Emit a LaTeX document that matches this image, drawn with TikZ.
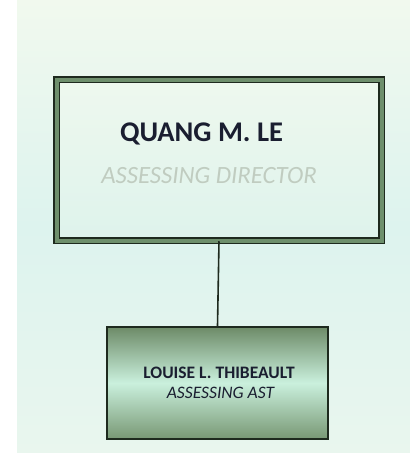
\documentclass[tikz,border=0pt]{standalone}
\usepackage{fontspec}
\setmainfont{Carlito}
\definecolor{bgtop}{HTML}{F1F9EE}
\definecolor{bgmid}{HTML}{DDF3EE}
\definecolor{bgbot}{HTML}{E9F6EE}
\definecolor{frame}{HTML}{6E8F6C}
\definecolor{edge}{HTML}{1E2A1E}
\definecolor{boxtop}{HTML}{EEF8EE}
\definecolor{boxbot}{HTML}{DEF3EC}
\definecolor{asttop}{HTML}{6D8B68}
\definecolor{astmid}{HTML}{CAF0DD}
\definecolor{astbot}{HTML}{789874}
\definecolor{namecol}{HTML}{1A1E30}
\definecolor{titlecol}{HTML}{C0CCC0}
\begin{document}
\begin{tikzpicture}[x=1pt,y=-1pt,
  bossbox/.style={draw=edge,double=frame,line width=1.5pt,double distance=4pt,
    top color=boxtop,bottom color=boxbot,minimum width=325pt,minimum height=161pt,inner sep=0pt},
  astbox/.style={draw=edge,line width=1.6pt,top color=asttop,bottom color=astbot,middle color=astmid,
    minimum width=221pt,minimum height=112pt,inner sep=0pt},
  nametext/.style={text=namecol,inner sep=0pt},
  titletext/.style={inner sep=0pt}]

% page and backdrop
\useasboundingbox (0,0) rectangle (410,453);
\fill[white] (0,0) rectangle (410,453);
\shade[top color=bgtop,bottom color=bgbot,middle color=bgmid] (17,0) rectangle (410,453);

% boxes
\node[bossbox] (boss) at (219,160) {};
\node[astbox] (ast) at (217.5,383) {};
\draw[edge,line width=1.6pt] (boss.south) -- (ast.north);

% texts
\node[nametext,font=\fontsize{28.5}{32}\selectfont\bfseries] (bossname) at (201.5,134) {QUANG M. LE};
\node[titletext,text=titlecol,font=\fontsize{24.8}{29}\selectfont\itshape] (bosstitle) at (209,176) {ASSESSING DIRECTOR};
\node[nametext,font=\fontsize{17.5}{20}\selectfont\bfseries] (astname) at (219,373) {LOUISE L. THIBEAULT};
\node[titletext,text=namecol,font=\fontsize{17.5}{20}\selectfont\itshape] (asttitle) at (220.5,393) {ASSESSING AST};
\end{tikzpicture}
\end{document}
